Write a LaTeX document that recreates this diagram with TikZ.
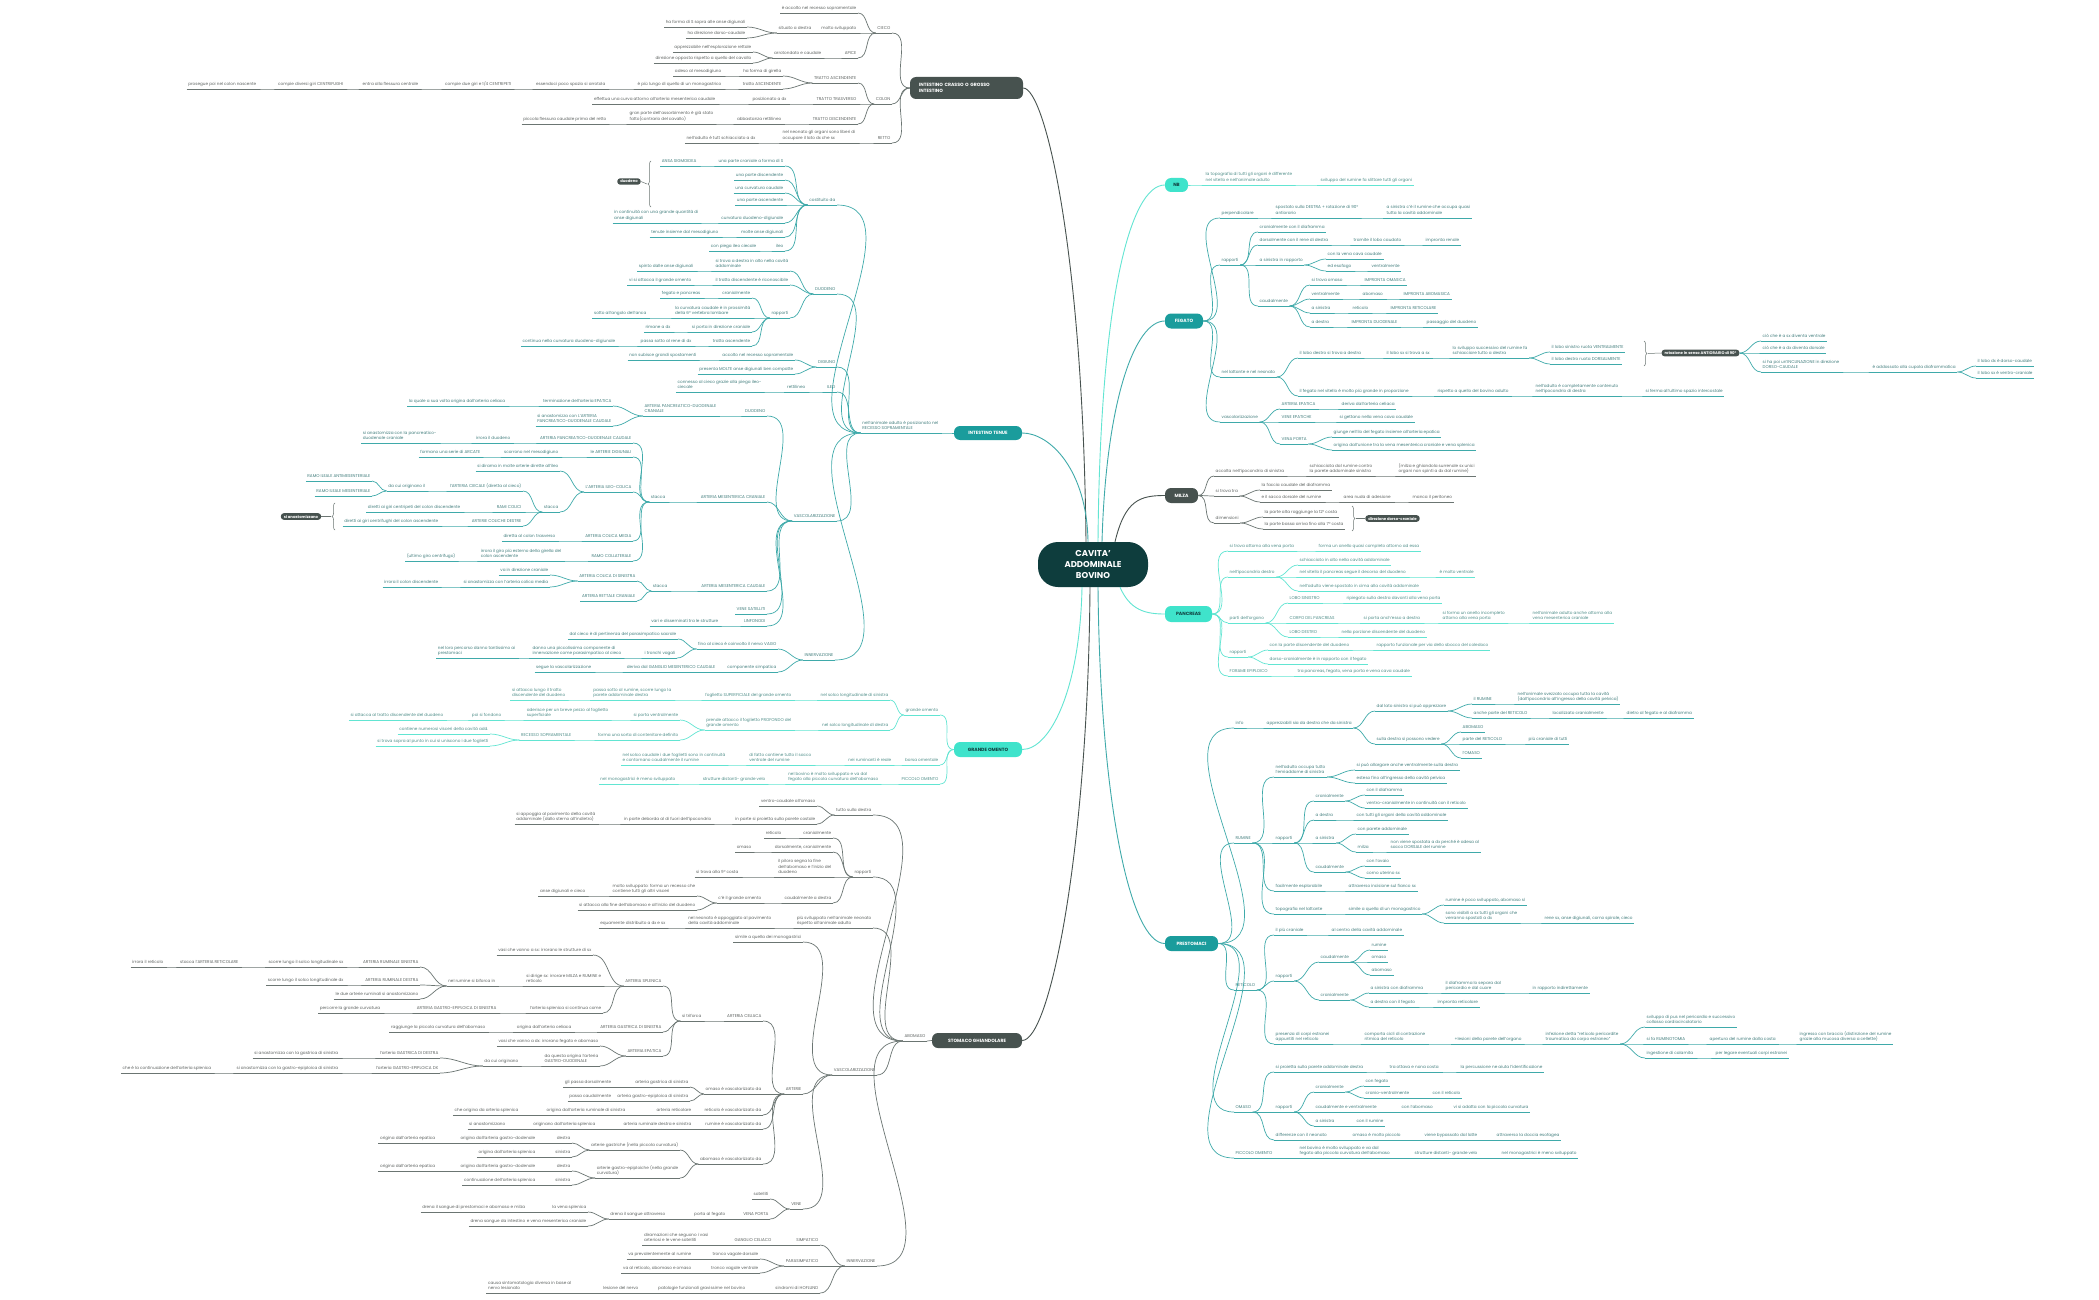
\documentclass[tikz,border=0pt]{standalone}
\usepackage{fontspec}
\setmainfont{Poppins}
\usetikzlibrary{decorations.pathreplacing}
\definecolor{cgray}{HTML}{47524F}
\definecolor{lgray}{HTML}{6B7572}
\definecolor{tgray}{HTML}{5E6361}
\definecolor{cteal}{HTML}{1A9C9C}
\definecolor{lteal}{HTML}{3FAAAA}
\definecolor{tteal}{HTML}{437F7E}
\definecolor{cbright}{HTML}{3FE3CB}
\definecolor{lbright}{HTML}{62E5D2}
\definecolor{tbright}{HTML}{4F8E89}
\definecolor{cdark}{HTML}{103F3F}
\definecolor{ccenter}{HTML}{0E3D3D}
\colorlet{bc}{lgray}\colorlet{tc}{tgray}
\newcommand\brG{\colorlet{bc}{lgray}\colorlet{tc}{tgray}}
\newcommand\brT{\colorlet{bc}{lteal}\colorlet{tc}{tteal}}
\newcommand\brB{\colorlet{bc}{lbright}\colorlet{tc}{tbright}}
\tikzset{
 leaf/.style={font=\fontsize{4.15}{5.9}\selectfont, text=tc, inner xsep=1.5pt, inner ysep=2pt, text depth=0.9pt, align=left},
 uline/.style={draw=bc, line width=0.7pt},
 conn/.style={draw=bc, line width=0.7pt},
 topic/.style={rounded corners=6pt, font=\fontsize{4.6}{6}\selectfont\bfseries, inner sep=0pt, align=left},
 anc/.style={inner sep=0pt, minimum size=0pt, outer sep=0pt},
 summ/.style={fill=cgray, text=white, rounded corners=3pt, font=\fontsize{3.8}{5}\selectfont\bfseries, inner xsep=3pt, inner ysep=1.8pt},
 brc/.style={draw=lgray, line width=0.5pt, decorate, decoration={brace, amplitude=3pt}},
}
\newcommand\lnd[5]{%
 \node[leaf,anchor=south east] (#1) at (#3,#4) {#5};
 \draw[uline] (#1.south west) -- (#1.south east);
 \draw[conn] (#2.south west) to[out=180,in=0] (#1.south east);}
\newcommand\rnd[5]{%
 \node[leaf,anchor=south west] (#1) at (#3,#4) {#5};
 \draw[uline] (#1.south west) -- (#1.south east);
 \draw[conn] (#2.south east) to[out=0,in=180] (#1.south west);}
\begin{document}
\begin{tikzpicture}[x=1pt,y=-1pt]
\fill[white] (0,0) rectangle (2099,1300);
\useasboundingbox (0,0) rectangle (2099,1300);

% ---------- centre and topics ----------
\node[fill=ccenter, text=white, rounded corners=20pt, minimum width=110pt, minimum height=45pt, align=center, font=\fontsize{8.5}{11}\selectfont\bfseries] (c) at (1093,564.5) {CAVITA'\\ADDOMINALE\\BOVINO};
\node[topic, fill=cgray, text=white, minimum width=113pt, minimum height=22pt, text width=95pt] (crasso) at (966.5,88) {INTESTINO CRASSO O GROSSO\\INTESTINO};
\node[topic, fill=cbright, text=cdark, minimum width=23pt, minimum height=14pt, align=center] (nb) at (1176.5,185) {NB};
\node[topic, fill=cteal, text=white, minimum width=38pt, minimum height=15pt, align=center] (fegato) at (1184,321) {FEGATO};
\node[topic, fill=cteal, text=white, minimum width=68pt, minimum height=14pt, align=center] (tenue) at (988,433) {INTESTINO TENUE};
\node[topic, fill=cgray, text=white, minimum width=33pt, minimum height=15pt, align=center] (milza) at (1181.5,495.5) {MILZA};
\node[topic, fill=cbright, text=cdark, minimum width=47pt, minimum height=16pt, align=center] (pancreas) at (1188.5,614) {PANCREAS};
\node[topic, fill=cbright, text=cdark, minimum width=68pt, minimum height=15pt, align=center] (omento) at (988,749.5) {GRANDE OMENTO};
\node[topic, fill=cteal, text=white, minimum width=53pt, minimum height=15pt, align=center] (prest) at (1191.5,943.5) {PRESTOMACI};
\node[topic, fill=cgray, text=white, minimum width=90pt, minimum height=15pt, align=center] (stomaco) at (977,1040.5) {STOMACO GHIANDOLARE};
\foreach \t in {crasso,tenue,omento,stomaco} {\node[anc] (\t A) at (\t.west) {};}
\foreach \t in {nb,fegato,milza,pancreas,prest} {\node[anc] (\t A) at (\t.east) {};}

\draw[cgray, line width=0.9pt] ([xshift=-7pt]c.north) .. controls (1083,250) and (1045,88) .. (crasso.east);
\draw[lteal, line width=0.9pt] ([xshift=-5pt]c.north) .. controls (1087,470) and (1050,433) .. (tenue.east);
\draw[lbright, line width=0.9pt] ([xshift=5pt]c.north) .. controls (1100,300) and (1130,185) .. (nb.west);
\draw[lteal, line width=0.9pt] ([xshift=9pt]c.north) .. controls (1106,400) and (1135,321) .. (fegato.west);
\draw[cgray, line width=0.9pt] ([xshift=22pt]c.north) .. controls (1125,500) and (1140,495.5) .. (milza.west);
\draw[lbright, line width=0.9pt] ([xshift=27pt]c.south) .. controls (1130,610) and (1145,614) .. (pancreas.west);
\draw[lbright, line width=0.9pt] ([xshift=-11pt]c.south) .. controls (1080,690) and (1050,749.5) .. (omento.east);
\draw[cgray, line width=0.9pt] ([xshift=-3pt]c.south) .. controls (1088,850) and (1050,1040.5) .. (stomaco.east);
\draw[lteal, line width=0.9pt] ([xshift=5pt]c.south) .. controls (1100,800) and (1130,943.5) .. (prest.west);

% ---------- INTESTINO CRASSO ----------
\brG
\lnd{cieco}{crassoA}{892}{33}{CIECO}
\lnd{ciecoA}{cieco}{858}{13}{è accolto nel recesso sopramentale}
\lnd{molto}{cieco}{858}{33}{molto sviluppato}
\lnd{situato}{molto}{813}{33}{situato a destra}
\lnd{formaS}{situato}{747}{27}{ha forma di S sopra alle anse digiunali}
\lnd{dirDC}{situato}{747}{38}{ha direzione dorso-caudale}
\lnd{apice}{cieco}{858}{58}{APICE}
\lnd{arrot}{apice}{823}{58}{arrotondato e caudale}
\lnd{apprez}{arrot}{753}{52}{apprezzabile nell'esplorazione rettale}
\lnd{dirOpp}{arrot}{753}{63}{direzione opposta rispetto a quello del cavallo}
\lnd{colon}{crassoA}{892}{104}{COLON}
\lnd{tasc}{colon}{858}{83}{TRATTO ASCENDENTE}
\lnd{girella}{tasc}{783}{76}{ha forma di girella}
\lnd{adeso}{girella}{723}{76}{adeso al mesodigiuno}
\lnd{tasc2}{tasc}{783}{89}{tratto ASCENDENTE}
\lnd{lungo}{tasc2}{723}{89}{è più lungo di quello di un monogastrico}
\lnd{arrotola}{lungo}{607}{89}{essendoci poco spazio si arrotola}
\lnd{giri}{arrotola}{513}{89}{compie due giri e 1/4 CENTRIPETI}
\lnd{flessura}{giri}{420}{89}{entra alla flessura centrale}
\lnd{centrif}{flessura}{345}{89}{compie diversi giri CENTRIFUGHI}
\lnd{prosegue}{centrif}{258}{89}{prosegue poi nel colon nascente}
\lnd{ttrasv}{colon}{858}{104}{TRATTO TRASVERSO}
\lnd{posdx}{ttrasv}{788}{104}{posizionato a dx}
\lnd{curva}{posdx}{717}{104}{effettua una curva attorno all'arteria mesenterica caudale}
\lnd{tdisc}{colon}{858}{124}{TRATTO DISCENDENTE}
\lnd{rettil}{tdisc}{783}{124}{abbastanza rettilineo}
\lnd{assorb}{rettil}{715}{124}{gran parte dell'assorbimento è già stato\\fatto(contrario del cavallo)}
\lnd{piccfl}{assorb}{608}{124}{piccola flessura caudale prima del retto}
\lnd{retto}{crassoA}{892}{143}{RETTO}
\lnd{neonato}{retto}{857}{143}{nel neonato gli organi sono liberi di\\occupare il lato dx che sx}
\lnd{adulto}{neonato}{757}{143}{nell'adulto è tutt schiacciato a dx}

% ---------- INTESTINO TENUE ----------
\brT
\lnd{tenRec}{tenueA}{940}{433}{nell'animale adulto è posizionato nel\\RECESSO SOPRAMENTALE}
\lnd{costit}{tenRec}{837}{205}{costituito da}
\lnd{ansaS}{costit}{785}{166}{una parte craniale a forma di S}
\lnd{ansaSig}{ansaS}{698}{166}{ANSA SIGMOIDEA}
\lnd{pdisc}{costit}{785}{180}{una parte discendente}
\lnd{pcurv}{costit}{785}{193}{una curvatura caudale}
\lnd{pasc}{costit}{785}{205}{una parte ascendente}
\lnd{cdd}{costit}{785}{223}{curvatura duodeno-digiunale}
\lnd{contin}{cdd}{700}{223}{in continuità con una grande quantità di\\anse digiunali}
\lnd{molteA}{costit}{785}{237}{molte anse digiunali}
\lnd{tenute}{molteA}{720}{237}{tenute insieme dal mesodigiuno}
\lnd{ileo1}{costit}{785}{251}{ileo}
\lnd{piega}{ileo1}{758}{251}{con piega ileo ciecale}
\draw[brc] (651,207) -- (651,161);
\node[summ] (duodbox) at (629,181.5) {duodeno};
\draw[lgray, line width=0.5pt] (duodbox.east) -- (647,184);
\lnd{duod}{tenRec}{837}{294}{DUODENO}
\lnd{dtrova}{duod}{790}{271}{si trova a destra in alto nella cavità\\addominale}
\lnd{spinto}{dtrova}{695}{271}{spinto dalle anse digiunali}
\lnd{dtratto}{duod}{790}{285}{il tratto discendente è riconoscibile}
\lnd{vi}{dtratto}{693}{285}{vi si attacca il grande omento}
\lnd{drapp}{duod}{790}{318}{rapporti}
\lnd{dcran}{drapp}{752}{298}{cranialmente}
\lnd{fegpan}{dcran}{702}{298}{fegato e pancreas}
\lnd{dcurv}{drapp}{752}{318}{la curvatura caudale è in prossimità\\della 6° vertebra lombare}
\lnd{anca}{dcurv}{648}{318}{sotto all'angolo dell'anca}
\lnd{dporta}{drapp}{752}{332}{si porta in direzione craniale}
\lnd{rimane}{dporta}{672}{332}{rimane a dx}
\lnd{dtasc}{drapp}{752}{346}{tratto ascendente}
\lnd{passa}{dtasc}{693}{346}{passa sotto al rene di dx}
\lnd{contcurv}{passa}{617}{346}{continua nella curvatura duodeno-digiunale}
\lnd{digiuno}{tenRec}{837}{367}{DIGIUNO}
\lnd{accolto}{digiuno}{795}{360}{accolto nel recesso sopramentale}
\lnd{nonsub}{accolto}{698}{360}{non subisce grandi spostamenti}
\lnd{presenta}{digiuno}{795}{374}{presenta MOLTE anse digiunali ben compatte}
\lnd{ileo}{tenRec}{837}{392}{ILEO}
\lnd{rettil2}{ileo}{807}{392}{rettilineo}
\lnd{connesso}{rettil2}{763}{392}{connesso al cieco grazie alla piega ileo-\\ciecale}
\lnd{tvasc}{tenRec}{837}{521}{VASCOLARIZZAZIONE}
\lnd{tvduod}{tvasc}{767}{416}{DUODENO}
\lnd{apdcr}{tvduod}{718}{416}{ARTERIA PANCREATICO-DUODENALE\\CRANIALE}
\lnd{termEp}{apdcr}{613}{406}{terminazione dell'arteria EPATICA}
\lnd{laquale}{termEp}{507}{406}{la quale a sua volta origina dall'arteria celiaca}
\lnd{sianast}{apdcr}{613}{426}{si anastomizza con L'ARTERIA\\PANCREATICO-DUODENALE CAUDALE}
\lnd{amc}{tvasc}{767}{502}{ARTERIA MESENTERICA CRANIALE}
\lnd{stacca1}{amc}{667}{502}{stacca}
\lnd{apdca}{stacca1}{633}{443}{ARTERIA PANCREATICO-DUODENALE CAUDALE}
\lnd{irrduod}{apdca}{512}{443}{irrora il duodeno}
\lnd{anpc}{irrduod}{438}{443}{si anastomizza con la pancreatico-\\duodenale craniale}
\lnd{adig}{stacca1}{633}{457}{le ARTERIE DIGIUNALI}
\lnd{scorr}{adig}{560}{457}{scorrono nel mesodigiuno}
\lnd{arcate}{scorr}{482}{457}{formano una serie di ARCATE}
\lnd{ailc}{stacca1}{633}{492}{L'ARTERIA ILEO-COLICA}
\lnd{dirama}{ailc}{560}{471}{si dirama in molte arterie dirette all'ileo}
\lnd{stacca2}{ailc}{560}{512}{stacca}
\lnd{aciec}{stacca2}{523}{491}{l'ARTERIA CIECALE (diretta al cieco)}
\lnd{dacui}{aciec}{427}{491}{da cui originano il}
\lnd{rianti}{dacui}{372}{481}{RAMO ILEALE ANTIMESENTERIALE}
\lnd{rimes}{dacui}{372}{496}{RAMO ILEALE MESENTERIALE}
\lnd{ramic}{stacca2}{523}{512}{RAMI COLICI}
\lnd{girictp}{ramic}{462}{512}{diretti ai giri centripeti del colon discendente}
\lnd{acd}{stacca2}{523}{526}{ARTERIE COLICHE DESTRE}
\lnd{giricf}{acd}{440}{526}{diretti ai giri centrifughi del colon ascendente}
\draw[brc] (335,530) -- (335,503);
\node[summ] (anastbox) at (301,516.5) {si anastomizzano};
\draw[lgray, line width=0.5pt] (anastbox.east) -- (331,516.5);
\lnd{acm}{stacca1}{633}{541}{ARTERIA COLICA MEDIA}
\lnd{trasv}{acm}{557}{541}{diretta al colon trasverso}
\lnd{ramocoll}{stacca1}{633}{561}{RAMO COLLATERALE}
\lnd{irrgiro}{ramocoll}{563}{561}{irrora il giro più esterno della girella del\\colon ascendente}
\lnd{ultimo}{irrgiro}{457}{561}{(ultimo giro centrifugo)}
\lnd{amca}{tvasc}{767}{591}{ARTERIA MESENTERICA CAUDALE}
\lnd{stacca3}{amca}{669}{591}{stacca}
\lnd{acs}{stacca3}{637}{581}{ARTERIA COLICA DI SINISTRA}
\lnd{vain}{acs}{550}{575}{va in direzione craniale}
\lnd{sianast2}{acs}{550}{587}{si anastomizza con l'arteria colica media}
\lnd{irrcd}{sianast2}{440}{587}{irrora il colon discendente}
\lnd{arc}{stacca3}{637}{601}{ARTERIA RETTALE CRANIALE}
\lnd{vsat}{tvasc}{767}{614}{VENE SATELLITI}
\lnd{linf}{tvasc}{767}{626}{LINFONODI}
\lnd{vari}{linf}{720}{626}{vari e disseminati tra le strutture}
\lnd{tinn}{tenRec}{835}{660}{INNERVAZIONE}
\lnd{finoc}{tinn}{778}{649}{fino al cieco è coinvolto il nervo VAGO}
\lnd{dalc}{finoc}{678}{639}{dal cieco è di pertinenza del parasimpatico sacrale}
\lnd{tronchi}{finoc}{677}{658}{i tronchi vagali}
\lnd{danno}{tronchi}{623}{658}{danno una piccolissima componente di\\innervazione come parasimpatico al cieco}
\lnd{nelloro}{danno}{517}{658}{nel loro percorso danno tantissimo ai\\prestomaci}
\lnd{compsimp}{tinn}{778}{672}{componente simpatica}
\lnd{deriva}{compsimp}{717}{672}{deriva dal GANGLIO MESENTERICO CAUDALE}
\lnd{segue}{deriva}{593}{672}{segue la vascolarizzazione}

% ---------- GRANDE OMENTO ----------
\brB
\lnd{gom}{omentoA}{940}{715}{grande omento}
\lnd{solcosx}{gom}{890}{700}{nel solco longitudinale di sinistra}
\lnd{fsup}{solcosx}{793}{700}{foglietto SUPERFICIALE del grande omento}
\lnd{passa2}{fsup}{673}{700}{passa sotto al rumine, scorre lungo la\\parete addominale destra}
\lnd{siatt}{passa2}{567}{700}{si attacca lungo il tratto\\discendente del duodeno}
\lnd{solcodx}{gom}{890}{730}{nel solco longitudinale di destra}
\lnd{fprof}{solcodx}{793}{730}{prende attacco il foglietto PROFONDO del\\grande omento}
\lnd{ventr}{fprof}{680}{720}{si porta ventralmente}
\lnd{aderisce}{ventr}{610}{720}{aderisce per un breve pezzo al foglietto\\superficiale}
\lnd{fondono}{aderisce}{503}{720}{poi si fondono}
\lnd{attdisc}{fondono}{445}{720}{si attacca al tratto discendente del duodeno}
\lnd{contenit}{fprof}{680}{740}{forma una sorta di contenitore definito}
\lnd{recesso}{contenit}{573}{740}{RECESSO SOPRAMENTALE}
\lnd{contiene}{recesso}{490}{734}{contiene numerosi visceri della cavità add.}
\lnd{sopra}{recesso}{490}{746}{si trova sopra al punto in cui si uniscono i due foglietti}
\lnd{bors}{omentoA}{940}{765}{borsa omentale}
\lnd{rumreale}{bors}{893}{765}{nei ruminanti è reale}
\lnd{difatto}{rumreale}{813}{765}{di fatto contiene tutto il sacco\\ventrale del rumine}
\lnd{solcocaud}{difatto}{727}{765}{nel solco caudale i due foglietti sono in continuità\\e contornano caudalmente il rumine}
\lnd{picc}{omentoA}{940}{784}{PICCOLO OMENTO}
\lnd{pbov}{picc}{880}{784}{nel bovino è molto sviluppato e va dal\\fegato alla piccola curvatura dell'abomaso}
\lnd{pstrut}{pbov}{767}{784}{strutture distanti- grande velo}
\lnd{pmono}{pstrut}{677}{784}{nel monogastrici è meno sviluppato}

% ---------- STOMACO GHIANDOLARE ----------
\brG
\lnd{abom}{stomacoA}{927}{1041}{ABOMASO}
\lnd{tutto}{abom}{873}{815}{tutto sulla destra}
\lnd{vcaud}{tutto}{817}{806}{ventro-caudale all'omaso}
\lnd{proietta}{tutto}{817}{824}{in parte si proietta sulla parete costale}
\lnd{deborda}{proietta}{713}{824}{in parte deborda al di fuori dell'ipocondrio}
\lnd{appoggia}{deborda}{597}{824}{si appoggia al pavimento della cavità\\addominale (dallo sterno all'indietro)}
\lnd{arapp}{abom}{873}{877}{rapporti}
\lnd{acran}{arapp}{833}{838}{cranialmente}
\lnd{aret}{acran}{783}{838}{reticolo}
\lnd{adors}{arapp}{833}{852}{dorsalmente, cranialmente}
\lnd{aomaso}{adors}{753}{852}{omaso}
\lnd{piloro}{arapp}{833}{877}{il piloro segna la fine\\dell'abomaso e l'inizio del\\duodeno}
\lnd{nona}{piloro}{740}{877}{si trova alla 9° costa}
\lnd{caudx}{arapp}{833}{903}{caudalmente a destra}
\lnd{gromento}{caudx}{763}{903}{c'è il grande omento}
\lnd{moltosv}{gromento}{697}{896}{molto sviluppato: forma un recesso che\\contiene tutti gli altri visceri}
\lnd{anse}{moltosv}{587}{896}{anse digiunali e cieco}
\lnd{siattfine}{gromento}{697}{910}{si attacca alla fine dell'abomaso e all'inizio del duodeno}
\lnd{piusv}{abom}{873}{928}{più sviluppato nell'animale neonato\\rispetto all'animale adulto}
\lnd{neoapp}{piusv}{773}{928}{nel neonato è appoggiato al pavimento\\della cavità addominale}
\lnd{equa}{neoapp}{667}{928}{equamente distribuito a dx e sx}
\lnd{avasc}{abom}{877}{1075}{VASCOLARIZZAZIONE}
\lnd{simile}{avasc}{803}{942}{simile a quella dei monogastrici}
\lnd{arterie}{avasc}{803}{1094}{ARTERIE}
\lnd{celiaca}{arterie}{763}{1021}{ARTERIA CELIACA}
\lnd{triforca}{celiaca}{703}{1021}{si triforca}
\lnd{asplen}{triforca}{663}{986}{ARTERIA SPLENICA}
\lnd{vasisx}{asplen}{593}{955}{vasi che vanno a sx: irrorano le strutture di sx}
\lnd{sidirige}{asplen}{603}{986}{si dirige sx: irrorare MILZA e RUMINE e\\reticolo}
\lnd{biforca}{sidirige}{497}{986}{nel rumine si biforca in}
\lnd{arsx}{biforca}{420}{967}{ARTERIA RUMINALE SINISTRA}
\lnd{arsxs}{arsx}{345}{967}{scorre lungo il solco longitudinale sx}
\lnd{arsxr}{arsxs}{240}{967}{stacca l'ARTERIA RETICOLARE}
\lnd{arsxi}{arsxr}{165}{967}{irrora il reticolo}
\lnd{ardx}{biforca}{420}{985}{ARTERIA RUMINALE DESTRA}
\lnd{ardxs}{ardx}{345}{985}{scorre lungo il solco longitudinale dx}
\lnd{ranast}{biforca}{420}{999}{le due arterie ruminali si anastomizzano}
\lnd{splcont}{asplen}{603}{1013}{l'arteria splenica si continua come}
\lnd{agesx}{splcont}{498}{1013}{ARTERIA GASTRO-EPIPLOICA DI SINISTRA}
\lnd{agesxg}{agesx}{382}{1013}{percorre la grande curvatura}
\lnd{agsx}{triforca}{663}{1032}{ARTERIA GASTRICA DI SINISTRA}
\lnd{origcel}{agsx}{573}{1032}{origina dall'arteria celiaca}
\lnd{raggiunge}{origcel}{487}{1032}{raggiunge la piccola curvatura dell'abomaso}
\lnd{aep}{triforca}{663}{1056}{ARTERIA EPATICA}
\lnd{vasidx}{aep}{600}{1046}{vasi che vanno a dx: irrorano fegato e abomaso}
\lnd{daquesta}{aep}{600}{1066}{da questa origina l'arteria\\GASTRO-DUODENALE}
\lnd{dacui2}{daquesta}{520}{1066}{da cui originano}
\lnd{gdx}{dacui2}{440}{1058}{l'arteria GASTRICA DI DESTRA}
\lnd{gdxa}{gdx}{340}{1058}{si anastomizza con la gastrica di sinistra}
\lnd{gedx}{dacui2}{440}{1073}{l'arteria GASTRO-EPIPLOICA DX}
\lnd{gedxa}{gedx}{340}{1073}{si anastomizza con la gastro-epiploica di sinistra}
\lnd{gedxc}{gedxa}{213}{1073}{che è la continuazione dell'arteria splenica}
\lnd{omvasc}{arterie}{763}{1094}{omaso è vascolarizzato da}
\lnd{ogsx}{omvasc}{690}{1087}{arteria gastrica di sinistra}
\lnd{gli}{ogsx}{613}{1087}{gli passa dorsalmente}
\lnd{ogesx}{omvasc}{690}{1101}{arteria gastro-epiploica di sinistra}
\lnd{passac}{ogesx}{613}{1101}{passa caudalmente}
\lnd{retvasc}{arterie}{763}{1115}{reticolo è vascolarizzato da}
\lnd{areti}{retvasc}{693}{1115}{arteria reticolare}
\lnd{origrum}{areti}{627}{1115}{origina dall'arteria ruminale di sinistra}
\lnd{cheorig}{origrum}{520}{1115}{che origina da arteria splenica}
\lnd{rumvasc}{arterie}{763}{1129}{rumine è vascolarizzato da}
\lnd{arumds}{rumvasc}{693}{1129}{arteria ruminale destra e sinistra}
\lnd{origspl}{arumds}{597}{1129}{originano dall'arteria splenica}
\lnd{sianast3}{origspl}{507}{1129}{si anastomizzano}
\lnd{abvasc}{arterie}{763}{1164}{abomaso è vascolarizzato da}
\lnd{agastr}{abvasc}{680}{1150}{arterie gastriche (nella piccola curvatura)}
\lnd{gd}{agastr}{572}{1143}{destra}
\lnd{gdorig}{gd}{537}{1143}{origina dall'arteria gastro-dodenale}
\lnd{gdorig2}{gdorig}{437}{1143}{origina dall'arteria epatica}
\lnd{gs}{agastr}{572}{1157}{sinistra}
\lnd{gsorig}{gs}{537}{1157}{origina dall'arteria splenica}
\lnd{agepi}{abvasc}{680}{1178}{arterie gastro-epiploiche (nella grande\\curvatura)}
\lnd{ed}{agepi}{572}{1171}{destra}
\lnd{edorig}{ed}{537}{1171}{origina dall'arteria gastro-dodenale}
\lnd{edorig2}{edorig}{437}{1171}{origina dall'arteria epatica}
\lnd{es}{agepi}{572}{1185}{sinistra}
\lnd{esorig}{es}{537}{1185}{continuazione dell'arteria splenica}
\lnd{vene}{avasc}{803}{1209}{VENE}
\lnd{satel}{vene}{770}{1199}{satelliti}
\lnd{vporta}{vene}{770}{1219}{VENA PORTA}
\lnd{portaf}{vporta}{727}{1219}{porta al fegato}
\lnd{drena}{portaf}{667}{1219}{drena il sangue attraverso}
\lnd{vspl}{drena}{588}{1212}{la vena splenica}
\lnd{drenap}{vspl}{527}{1212}{drena il sangue di prestomaci e abomaso e milza}
\lnd{vmes}{drena}{588}{1226}{e vena mesenterica craniale}
\lnd{drenai}{vmes}{527}{1226}{drena sangue da intestino}
\lnd{ainn}{abom}{877}{1266}{INNERVAZIONE}
\lnd{simp}{ainn}{820}{1245}{SIMPATICO}
\lnd{gcel}{simp}{773}{1245}{GANGLIO CELIACO}
\lnd{diram}{gcel}{710}{1245}{diramazioni che seguono i vasi\\arteriosi e le vene satelliti}
\lnd{paras}{ainn}{820}{1266}{PARASIMPATICO}
\lnd{tvd}{paras}{760}{1259}{tronco vagale dorsale}
\lnd{vaprev}{tvd}{693}{1259}{va prevalentemente al rumine}
\lnd{tvv}{paras}{760}{1273}{tronco vagale ventrale}
\lnd{vaal}{tvv}{693}{1273}{va al reticolo, abomaso e omaso}
\lnd{hof}{ainn}{820}{1293}{sindromi di HOFLUND}
\lnd{patol}{hof}{747}{1293}{patologie funzionali gravissime nel bovino}
\lnd{lesione}{patol}{640}{1293}{lesione del nervo}
\lnd{causa}{lesione}{573}{1293}{causa sintomatologia diversa in base al\\nervo lesionato}

% ---------- NB ----------
\brB
\rnd{nbtop}{nbA}{1204}{185}{la topografia di tutti gli organi è differente\\nel vitello e nell'animale adulto}
\rnd{nbsv}{nbtop}{1319}{185}{sviluppo del rumine fa slittare tutti gli organi}

% ---------- FEGATO ----------
\brT
\rnd{perp}{fegatoA}{1220}{218}{perpendicolare}
\rnd{spost}{perp}{1274}{218}{spostato sulla DESTRA + rotazione di 90°\\antiorario}
\rnd{asin}{spost}{1385}{218}{a sinistra c'è il rumine che occupa quasi\\tutta la cavità addominale}
\rnd{frapp}{fegatoA}{1220}{265}{rapporti}
\rnd{fcran}{frapp}{1258}{232}{cranialmente con il diaframma}
\rnd{fdors}{frapp}{1258}{245}{dorsalmente con il rene di destra}
\rnd{lobocaud}{fdors}{1352}{245}{tramite il lobo caudato}
\rnd{imprene}{lobocaud}{1424}{245}{impronta renale}
\rnd{fsin}{frapp}{1258}{265}{a sinistra in rapporto}
\rnd{vcava}{fsin}{1326}{259}{con la vena cava caudale}
\rnd{esof}{fsin}{1326}{271}{ed esofago}
\rnd{ventr2}{esof}{1370}{271}{ventralmente}
\rnd{fcaud}{frapp}{1258}{306}{caudalmente}
\rnd{fomaso}{fcaud}{1310}{285}{si trova omaso}
\rnd{impom}{fomaso}{1363}{285}{IMPRONTA OMASICA}
\rnd{fventr}{fcaud}{1310}{299}{ventralmente}
\rnd{fabom}{fventr}{1361}{299}{abomaso}
\rnd{impab}{fabom}{1402}{299}{IMPRONTA ABOMASICA}
\rnd{fasin}{fcaud}{1310}{313}{a sinistra}
\rnd{fret}{fasin}{1351}{313}{reticolo}
\rnd{impret}{fret}{1389}{313}{IMPRONTA RETICOLARE}
\rnd{fadx}{fcaud}{1310}{327}{a destra}
\rnd{impduod}{fadx}{1350}{327}{IMPRONTA DUODENALE}
\rnd{passd}{impduod}{1425}{327}{passaggio del duodeno}
\rnd{latt}{fegatoA}{1220}{377}{nel lattante e nel neonato}
\rnd{lobodx}{latt}{1298}{358}{il lobo destro si trova a destra}
\rnd{lobosx}{lobodx}{1385}{358}{il lobo sx si trova a sx}
\rnd{svsucc}{lobosx}{1451}{358}{lo sviluppo successivo del rumine fa\\schiacciare tutto a destra}
\rnd{rotv}{svsucc}{1550}{352}{il lobo sinistro ruota VENTRALMENTE}
\rnd{rotd}{svsucc}{1550}{364}{il lobo destro ruota DORSALMENTE}
\draw[brc] (1644,341) -- (1644,366);
\node[summ] (rot) at (1700.5,353) {rotazione in senso ANTIORARIO di 90°};
\draw[lgray, line width=0.5pt] (1648,353.5) -- (rot.west);
\node[anc] (rotA) at (rot.east) {};
\rnd{ciosx}{rotA}{1761}{341}{ciò che è a sx diventa ventrale}
\rnd{ciodx}{rotA}{1761}{353}{ciò che è a dx diventa dorsale}
\rnd{incl}{rotA}{1761}{372}{si ha poi un'INCLINAZIONE in direzione\\DORSO-CAUDALE}
\rnd{addoss}{incl}{1871}{372}{è addossato alla cupola diaframmatica}
\rnd{lobodc}{addoss}{1976}{366}{il lobo dx è dorso-caudale}
\rnd{lobovc}{addoss}{1976}{378}{il lobo sx è ventro-craniale}
\rnd{fgrande}{latt}{1298}{396}{il fegato nel vitello è molto più grande in proporzione}
\rnd{rispetto}{fgrande}{1436}{396}{rispetto a quello del bovino adulto}
\rnd{nelladulto}{rispetto}{1534}{396}{nell'adulto è completamente contenuto\\nell'ipocondrio di destra}
\rnd{siferma}{nelladulto}{1644}{396}{si ferma all'ultimo spazio intercostale}
\rnd{fvasc}{fegatoA}{1220}{422}{vascolarizzazione}
\rnd{fart}{fvasc}{1280}{409}{ARTERIA EPATICA}
\rnd{fartd}{fart}{1340}{409}{deriva dall'arteria celiaca}
\rnd{fvene}{fvasc}{1280}{422}{VENE EPATICHE}
\rnd{fvened}{fvene}{1338}{422}{si gettano nella vena cava caudale}
\rnd{fvp}{fvasc}{1280}{444}{VENA PORTA}
\rnd{giunge}{fvp}{1332}{437}{giunge nell'ilo del fegato insieme all'arteria epatica}
\rnd{origun}{fvp}{1332}{450}{origina dall'unione tra la vena mesenterica craniale e vena splenica}

% ---------- MILZA ----------
\brG
\rnd{accolta}{milzaA}{1214}{476}{accolta nell'ipocondrio di sinistra}
\rnd{schiacc}{accolta}{1308}{476}{schiacciata dal rumine contro\\la parete addominale sinistra}
\rnd{milzagh}{schiacc}{1397}{476}{(milza e ghiandola surrenale sx unici\\organi non spinti a dx dal rumine)}
\rnd{sitrova}{milzaA}{1214}{496}{si trova tra}
\rnd{faccia}{sitrova}{1260}{490}{la faccia caudale del diaframma}
\rnd{sacco}{sitrova}{1260}{502}{e il sacco dorsale del rumine}
\rnd{area}{sacco}{1342}{502}{area nuda di adesione}
\rnd{manca}{area}{1411}{502}{manca il peritoneo}
\rnd{dimens}{milzaA}{1214}{523}{dimensioni}
\rnd{palta}{dimens}{1263}{517}{la parte alta raggiunge la 12° costa}
\rnd{pbassa}{dimens}{1263}{529}{la parte bassa arriva fino alla 7° costa}
\draw[brc] (1352,506) -- (1352,531);
\node[summ] (dirdc) at (1392.5,518.5) {direzione dorso-craniale};
\draw[lgray, line width=0.5pt] (1356,518.5) -- (dirdc.west);

% ---------- PANCREAS ----------
\brB
\rnd{attorno}{pancreasA}{1228}{551}{si trova attorno alla vena porta}
\rnd{anello}{attorno}{1317}{551}{forma un anello quasi completo attorno ad essa}
\rnd{ipodx}{pancreasA}{1228}{577}{nell'ipocondrio destro}
\rnd{schiac2}{ipodx}{1298}{565}{schiacciato in alto nella cavità addominale}
\rnd{nelvit}{ipodx}{1298}{577}{nel vitello il pancreas segue il decorso del duodeno}
\rnd{ventrale}{nelvit}{1438}{577}{è molto ventrale}
\rnd{nelad}{ipodx}{1298}{591}{nell'adulto viene spostato in cima alla cavità addominale}
\rnd{parti}{pancreasA}{1228}{623}{parti dell'organo}
\rnd{lsin}{parti}{1288}{603}{LOBO SINISTRO}
\rnd{ripieg}{lsin}{1345}{603}{ripiegato sulla destra davanti alla vena porta}
\rnd{corpo}{parti}{1288}{623}{CORPO DEL PANCREAS}
\rnd{anchesso}{corpo}{1362}{623}{si porta anch'esso a destra}
\rnd{anincompl}{anchesso}{1441}{623}{si forma un anello incompleto\\attorno alla vena porta}
\rnd{anadulto}{anincompl}{1531}{623}{nell'animale adulto anche attorno alla\\vena mesenterica craniale}
\rnd{ldes}{parti}{1288}{637}{LOBO DESTRO}
\rnd{porzdisc}{ldes}{1340}{637}{nella porzione discendente del duodeno}
\rnd{prapp}{pancreasA}{1228}{657}{rapporti}
\rnd{pdisc2}{prapp}{1268}{650}{con la parte discendente del duodeno}
\rnd{funz}{pdisc2}{1375}{650}{rapporto funzionale per via dello sbocco del coledoco}
\rnd{dorsocr}{prapp}{1268}{664}{dorso-cranialmente è in rapporto con il fegato}
\rnd{forame}{pancreasA}{1228}{676}{FORAME EPIPLOICO}
\rnd{trapanc}{forame}{1296}{676}{tra pancreas, fegato, vena porta e vena cava caudale}

% ---------- PRESTOMACI ----------
\brT
\rnd{info}{prestA}{1234}{728}{info}
\rnd{apprezz}{info}{1265}{728}{apprezzabili sia da destra che da sinistra}
\rnd{latosx}{apprezz}{1375}{711}{dal lato sinistro si può apprezzare}
\rnd{ilrum}{latosx}{1472}{704}{il RUMINE}
\rnd{svezz}{ilrum}{1516}{704}{nell'animale svezzato occupa tutta la cavità\\(dall'ipocondrio all'ingresso della cavità pelvica)}
\rnd{anchepr}{latosx}{1472}{718}{anche parte del RETICOLO}
\rnd{localiz}{anchepr}{1551}{718}{localizzato cranialmente}
\rnd{dietro}{localiz}{1625}{718}{dietro al fegato e al diaframma}
\rnd{suldx}{apprezz}{1375}{744}{sulla destra si possono vedere}
\rnd{pabom}{suldx}{1461}{732}{ABOMASO}
\rnd{pret}{suldx}{1461}{744}{parte del RETICOLO}
\rnd{piucr}{pret}{1527}{744}{più craniale di tutti}
\rnd{pomaso}{suldx}{1461}{758}{l'OMASO}
\rnd{rumine}{prestA}{1234}{843}{RUMINE}
\rnd{emiad}{rumine}{1274}{777}{nell'adulto occupa tutto\\l'emiaddome di sinistra}
\rnd{allarg}{emiad}{1355}{770}{si può allargare anche ventralmente sulla destra}
\rnd{esteso}{emiad}{1355}{783}{esteso fino all'ingresso della cavità pelvica}
\rnd{rrapp}{rumine}{1274}{843}{rapporti}
\rnd{rcran}{rrapp}{1314}{801}{cranialmente}
\rnd{rdiaf}{rcran}{1365}{795}{con il diaframma}
\rnd{rventro}{rcran}{1365}{808}{ventro-cranialmente in continuità con il reticolo}
\rnd{rdx}{rrapp}{1314}{820}{a destra}
\rnd{rtutti}{rdx}{1355}{820}{con tutti gli organi della cavità addominale}
\rnd{rsx}{rrapp}{1314}{843}{a sinistra}
\rnd{rparete}{rsx}{1356}{834}{con parete addominale}
\rnd{rmilza}{rsx}{1356}{852}{milza}
\rnd{nonvien}{rmilza}{1389}{852}{non viene spostata a dx perché è adesa al\\sacco DORSALE del rumine}
\rnd{rcaud}{rrapp}{1314}{872}{caudalmente}
\rnd{rovaio}{rcaud}{1365}{866}{con l'ovaio}
\rnd{rcorno}{rcaud}{1365}{878}{corno uterino sx}
\rnd{esplor}{rumine}{1274}{891}{facilmente esplorabile}
\rnd{incis}{esplor}{1347}{891}{attraverso incisione sul fianco sx}
\rnd{topol}{rumine}{1274}{914}{topografia nel lattante}
\rnd{simmono}{topol}{1347}{914}{simile a quella di un monogastrico}
\rnd{rpoco}{simmono}{1444}{905}{rumine è poco sviluppato, abomaso sì}
\rnd{visib}{simmono}{1444}{923}{sono visibili a sx tutti gli organi che\\verranno spostati a dx}
\rnd{renesx}{visib}{1543}{923}{rene sx, anse digiunali, corno spirale, cieco}
\rnd{retic}{prestA}{1234}{990}{RETICOLO}
\rnd{piucran}{retic}{1274}{935}{il più craniale}
\rnd{centro}{piucran}{1330}{935}{al centro della cavità addominale}
\rnd{trapp}{retic}{1274}{981}{rapporti}
\rnd{tcaud}{trapp}{1319}{962}{caudalmente}
\rnd{trum}{tcaud}{1370}{950}{rumine}
\rnd{tom}{tcaud}{1370}{962}{omaso}
\rnd{tab}{tcaud}{1370}{975}{abomaso}
\rnd{tcran}{trapp}{1319}{1000}{cranialmente}
\rnd{tsind}{tcran}{1369}{993}{a sinistra con diaframma}
\rnd{tsep}{tsind}{1444}{993}{il diaframma lo separa dal\\pericardio e dal cuore}
\rnd{tind}{tsep}{1531}{993}{in rapporto indirettamente}
\rnd{tdxf}{tcran}{1369}{1007}{a destra con il fegato}
\rnd{timpr}{tdxf}{1436}{1007}{impronta reticolare}
\rnd{corpi}{retic}{1274}{1044}{presenza di  corpi estranei\\appuntiti nel reticolo}
\rnd{cicli}{corpi}{1363}{1044}{comporta cicli di contrazione\\ritmica del reticolo}
\rnd{lesioni}{cicli}{1453}{1044}{+lesioni della parete dell'organo}
\rnd{infez}{lesioni}{1544}{1044}{infezione detta "reticolo pericardite\\traumatica da corpo estraneo"}
\rnd{pus}{infez}{1645}{1027}{sviluppo di pus nel pericardio e successivo\\collasso cardiocircolatorio}
\rnd{rumtom}{infez}{1645}{1044}{si fa RUMINOTOMIA}
\rnd{apert}{rumtom}{1708}{1044}{apertura del rumine dalla costa}
\rnd{ingresso}{apert}{1798}{1044}{ingresso con braccio (distinzione del rumine\\grazie alla mucosa diversa a cellette)}
\rnd{calam}{infez}{1645}{1058}{ingestione di calamita}
\rnd{legare}{calam}{1714}{1058}{per legare eventuali corpi estranei}
\rnd{omaso}{prestA}{1234}{1112}{OMASO}
\rnd{oproi}{omaso}{1274}{1072}{si proietta sulla parete addominale destra}
\rnd{ottava}{oproi}{1388}{1072}{tra ottava e nona costa}
\rnd{percus}{ottava}{1459}{1072}{la percussione ne aiuta l'identificazione}
\rnd{orapp}{omaso}{1274}{1112}{rapporti}
\rnd{ocran}{orapp}{1314}{1092}{cranialmente}
\rnd{ofeg}{ocran}{1364}{1086}{con fegato}
\rnd{ocv}{ocran}{1364}{1098}{cranio-ventralmente}
\rnd{oret}{ocv}{1431}{1098}{con il reticolo}
\rnd{ocaud}{orapp}{1314}{1112}{caudalmente e ventralmente}
\rnd{oabom}{ocaud}{1400}{1112}{con l'abomaso}
\rnd{oadatta}{oabom}{1452}{1112}{vi si adatta con la piccola curvatura}
\rnd{osin}{orapp}{1314}{1126}{a sinistra}
\rnd{orum}{osin}{1355}{1126}{con il rumine}
\rnd{odiff}{omaso}{1274}{1140}{differenze con il neonato}
\rnd{opicc}{odiff}{1351}{1140}{omaso è molto piccolo}
\rnd{obyp}{opicc}{1423}{1140}{viene bypassato dal latte}
\rnd{odocc}{obyp}{1495}{1140}{attraverso la doccia esofagea}
\rnd{ppicc}{prestA}{1234}{1158}{PICCOLO OMENTO}
\rnd{ppbov}{ppicc}{1298}{1158}{nel bovino è molto sviluppato e va dal\\fegato alla piccola curvatura dell'abomaso}
\rnd{ppstr}{ppbov}{1413}{1158}{strutture distanti- grande velo}
\rnd{ppmono}{ppstr}{1500}{1158}{nel monogastrici è meno sviluppato}
\end{tikzpicture}
\end{document}
